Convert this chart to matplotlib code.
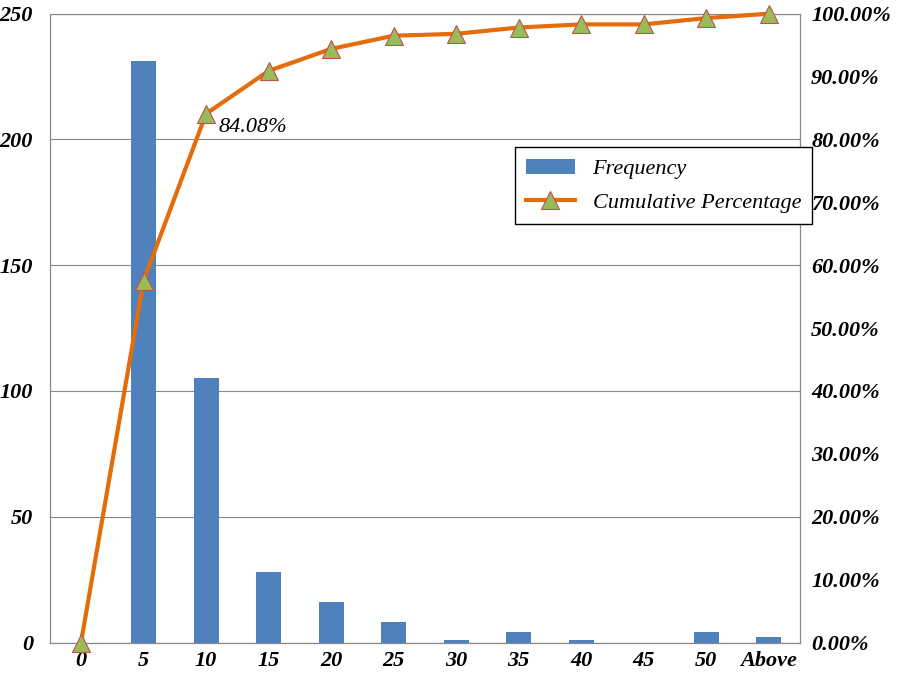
import matplotlib.pyplot as plt
import numpy as np

plt.rcParams['font.family'] = ['Liberation Serif', 'DejaVu Serif']

bins = ['0', '5', '10', '15', '20', '25', '30', '35', '40', '45', '50', 'Above']
frequency = [0, 231, 105, 28, 16, 8, 1, 4, 1, 0, 4, 2]
cum_pct = [0.0, 57.5, 84.08, 90.9, 94.4, 96.5, 96.8, 97.8, 98.3, 98.3, 99.3, 100.0]

fig = plt.figure(figsize=(9.04, 6.85), dpi=100)
ax = fig.add_axes([0.055, 0.062, 0.83, 0.918])
x = np.arange(len(bins))

ax.bar(x, frequency, width=0.4, color='#4F81BD', label='Frequency', zorder=2)
ax.set_ylim(0, 250)
ax.set_yticks(range(0, 251, 50))
ax.set_xlim(-0.5, len(bins) - 0.5)
ax.set_xticks(x)
ax.set_xticklabels(bins)
ax.yaxis.grid(True, color='#888888', linewidth=0.8, zorder=0)
ax.tick_params(axis='x', labelsize=16, length=0, pad=6)
ax.tick_params(axis='y', labelsize=16, length=0, pad=12)
for lbl in ax.get_xticklabels() + ax.get_yticklabels():
    lbl.set_fontweight('bold')
    lbl.set_fontstyle('italic')
for s in ax.spines.values():
    s.set_color('#888888')

ax2 = ax.twinx()
ax2.plot(x, cum_pct, color='#E46C0A', linewidth=3, marker='^', markersize=13,
         markerfacecolor='#9BBB59', markeredgecolor='#C0504D', markeredgewidth=0.8,
         label='Cumulative Percentage', zorder=3, clip_on=False)
ax2.set_ylim(0, 100)
ax2.set_yticks(range(0, 101, 10))
ax2.set_yticklabels([f'{v:.2f}%' for v in range(0, 101, 10)])
ax2.tick_params(labelsize=16, length=0, pad=8)
for lbl in ax2.get_yticklabels():
    lbl.set_fontweight('bold')
    lbl.set_fontstyle('italic')
for s in ax2.spines.values():
    s.set_color('#888888')

ax2.annotate(f'{cum_pct[2]:.2f}%', (x[2], cum_pct[2]), xytext=(9, -10),
             textcoords='offset points', fontsize=16, fontstyle='italic', va='center')

h1, l1 = ax.get_legend_handles_labels()
h2, l2 = ax2.get_legend_handles_labels()
leg = ax2.legend(h1 + h2, l1 + l2, loc='upper left', bbox_to_anchor=(0.605, 0.805),
                 frameon=True, fancybox=False, edgecolor='black', framealpha=1,
                 prop={'style': 'italic', 'size': 16}, handlelength=2.2,
                 labelspacing=0.6, borderpad=0.5)

fig.savefig('out.png')
